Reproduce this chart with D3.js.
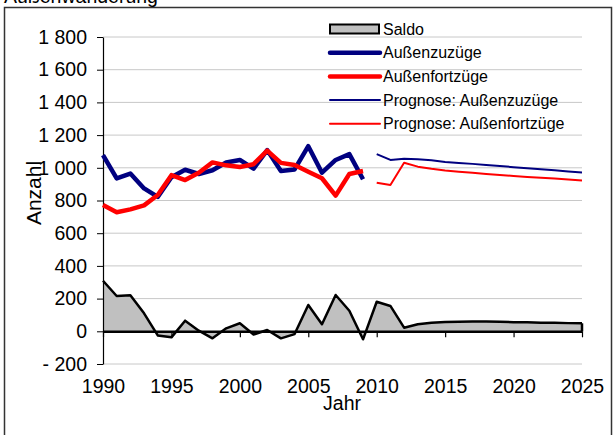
<!DOCTYPE html>
<html>
<head>
<meta charset="utf-8">
<script src="https://cdn.jsdelivr.net/npm/d3@7"></script>
<style>
  body { margin: 0; background: #fff; }
  svg { font-family: "Liberation Sans", Arial, sans-serif; }
</style>
</head>
<body>
<svg id="chart" width="616" height="435"></svg>
<script>
// data
const years = d3.range(1990, 2026);
const histYears = d3.range(1990, 2010);
const progYears = d3.range(2010, 2026);

const zuzuege = [1078, 935, 965, 874, 822, 942, 988, 962, 985, 1032, 1048, 995, 1108, 980, 990, 1132, 970, 1048, 1084, 930];
const fortzuege = [772, 728, 746, 770, 834, 955, 925, 970, 1033, 1015, 1005, 1022, 1105, 1030, 1017, 976, 936, 830, 962, 980];
const progZuzuege = [1084, 1048, 1056, 1052, 1046, 1036, 1030, 1024, 1017, 1011, 1004, 997, 991, 985, 978, 972];
const progFortzuege = [909, 895, 1031, 1007, 994, 984, 976, 969, 962, 956, 950, 944, 939, 934, 928, 923];
const saldo = [309, 216, 220, 110, -25, -37, 65, 4, -43, 18, 49, -20, 8, -43, -17, 161, 43, 222, 126, -49,
               181, 155, 22, 43, 53, 57, 59, 60, 60, 58, 56, 55, 53, 52, 50, 49];

const yTicks = d3.range(-200, 1801, 200);
const xTicks = d3.range(1990, 2026, 5);

const svg = d3.select("#chart");
const fmt = v => v < 0 ? "- " + Math.abs(v) : (v >= 1000 ? Math.floor(v / 1000) + " " + String(v % 1000).padStart(3, "0") : String(v));
const FS = 19.5;

const x = d3.scaleLinear().domain([1990, 2025]).range([103, 582]);
const y = d3.scaleLinear().domain([-200, 1800]).range([364, 37]);

// outer frame + title
svg.append("rect").attr("x", 4.5).attr("y", 7.5).attr("width", 607).attr("height", 440)
  .attr("fill", "none").attr("stroke", "#333").attr("stroke-width", 1.5);
svg.append("text").attr("x", 4).attr("y", 3).attr("font-size", FS).text("Außenwanderung");

// gridlines
svg.append("g").selectAll("line").data(yTicks.filter(d => d !== 0)).enter().append("line")
  .attr("x1", x(1990)).attr("x2", x(2025))
  .attr("y1", d => y(d)).attr("y2", d => y(d))
  .attr("stroke", "#c8c8c8").attr("stroke-width", 1);

// saldo area
svg.append("path").datum(years.map((yr, i) => [yr, saldo[i]]))
  .attr("d", d3.area().x(d => x(d[0])).y0(y(0)).y1(d => y(d[1])))
  .attr("fill", "#c0c0c0");
svg.append("path").datum(years.map((yr, i) => [yr, saldo[i]]))
  .attr("d", d3.line().x(d => x(d[0])).y(d => y(d[1])))
  .attr("fill", "none").attr("stroke", "#000").attr("stroke-width", 2.5).attr("stroke-linejoin", "round");
// right edge of area
svg.append("line").attr("x1", x(2025)).attr("x2", x(2025)).attr("y1", y(0)).attr("y2", y(saldo[saldo.length - 1]))
  .attr("stroke", "#000").attr("stroke-width", 2.5);

// y axis
const yAxis = svg.append("g").attr("transform", `translate(${x(1990)},0)`)
  .call(d3.axisLeft(y).tickValues(yTicks).tickFormat(fmt).tickSize(6).tickSizeOuter(0));
yAxis.select(".domain").attr("stroke", "#000").attr("stroke-width", 1.2);
yAxis.selectAll(".tick text").attr("font-size", FS).attr("font-family", "Liberation Sans, Arial, sans-serif").attr("fill", "#000").attr("x", -16);

// x axis at zero
const xAxis = svg.append("g").attr("transform", `translate(0,${y(0)})`)
  .call(d3.axisBottom(x).tickValues(xTicks).tickFormat(d3.format("d")).tickSize(6).tickSizeOuter(0));
xAxis.select(".domain").attr("stroke", "#000").attr("stroke-width", 2.5);
xAxis.selectAll(".tick line").attr("stroke-width", 1.2);
xAxis.selectAll(".tick text").attr("font-size", FS).attr("font-family", "Liberation Sans, Arial, sans-serif").attr("fill", "#000")
  .attr("dy", null).attr("y", 393 - y(0));

// lines
const line = d3.line().x(d => x(d[0])).y(d => y(d[1]));
function drawLine(ys, vals, color, w) {
  svg.append("path").datum(ys.map((yr, i) => [yr, vals[i]]))
    .attr("d", line).attr("fill", "none").attr("stroke", color).attr("stroke-width", w)
    .attr("stroke-linejoin", "round");
}
drawLine(histYears, zuzuege, "#000080", 4.5);
drawLine(histYears, fortzuege, "#ff0000", 4.5);
drawLine(progYears, progZuzuege, "#000080", 2);
drawLine(progYears, progFortzuege, "#ff0000", 2);

// axis titles
svg.append("text").attr("transform", `translate(41,193) rotate(-90)`)
  .attr("text-anchor", "middle").attr("font-size", 21).text("Anzahl");
svg.append("text").attr("x", 342).attr("y", 410).attr("text-anchor", "middle").attr("font-size", FS).text("Jahr");

// legend
const legendItems = [
  { label: "Saldo", type: "area" },
  { label: "Außenzuzüge", color: "#000080", w: 4.5 },
  { label: "Außenfortzüge", color: "#ff0000", w: 4.5 },
  { label: "Prognose: Außenzuzüge", color: "#000080", w: 2 },
  { label: "Prognose: Außenfortzüge", color: "#ff0000", w: 2 }
];
const lg = svg.append("g").attr("transform", "translate(330,29)");
legendItems.forEach((d, i) => {
  const g = lg.append("g").attr("transform", `translate(0,${i * 23.7})`);
  if (d.type === "area") {
    g.append("rect").attr("x", 0).attr("y", -4.5).attr("width", 49).attr("height", 9)
      .attr("fill", "#c0c0c0").attr("stroke", "#000").attr("stroke-width", 2);
  } else {
    g.append("line").attr("x1", 0).attr("x2", 50).attr("y1", 0).attr("y2", 0)
      .attr("stroke", d.color).attr("stroke-width", d.w).attr("stroke-linecap", "round");
  }
  g.append("text").attr("x", 53).attr("y", 5.5).attr("font-size", 16).text(d.label);
});
</script>
</body>
</html>
